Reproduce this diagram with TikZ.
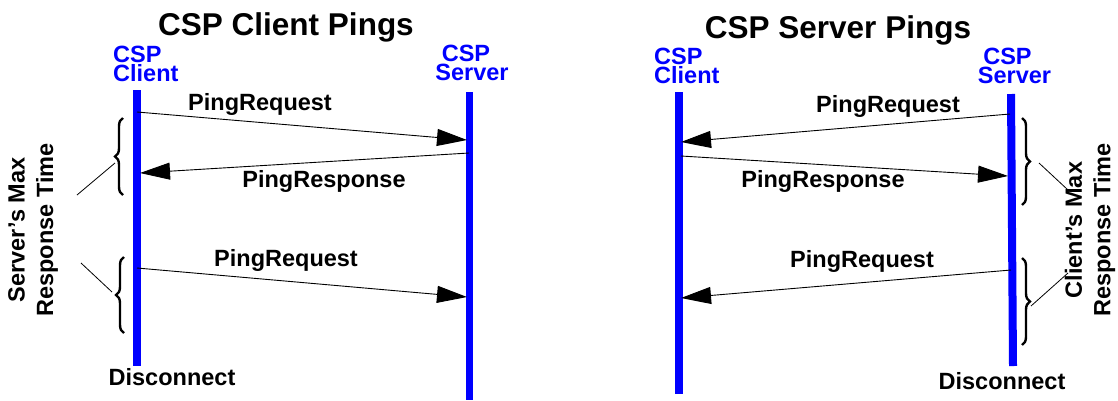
\documentclass[tikz,border=0pt]{standalone}
\usepackage{fontspec}
\setmainfont{Liberation Sans}
\usetikzlibrary{arrows.meta,decorations.pathreplacing}
\definecolor{lifeblue}{RGB}{0,0,255}
\tikzset{
  lifeline/.style={draw=lifeblue,line width=7.5pt},
  msg/.style={draw=black,line width=0.9pt,-{Triangle[length=30pt,width=17pt]}},
  msglabel/.style={anchor=base,inner sep=0pt,font=\fontsize{23.5}{28}\selectfont\bfseries},
  title/.style={anchor=base,inner sep=0pt,font=\fontsize{31.5}{36}\selectfont\bfseries},
  actor/.style={inner sep=0pt,text=lifeblue,font=\fontsize{23.5}{19.2}\selectfont\bfseries},
  bracebox/.style={draw=black,line width=2.4pt,decorate,decoration={brace,amplitude=8pt}},
  pointer/.style={draw=black,line width=0.8pt},
  sidenote/.style={inner sep=0pt,rotate=90,align=center,font=\fontsize{23.5}{28.5}\selectfont\bfseries}
}
\begin{document}
\begin{tikzpicture}[x=1pt,y=-1pt]
\useasboundingbox (0,0) rectangle (1118,400);
% ---------- Left panel ----------
\node[title] (t1) at (286,35) {CSP Client Pings};
\node[actor,anchor=north west,align=left] (lc) at (113,46) {CSP\\Client};
\node[actor,anchor=north,align=center] (ls) at (472,45) {CSP\hspace*{12pt}\\Server};
\coordinate (lct) at (137,90);
\coordinate (lcb) at (137,366);
\coordinate (lst) at (469.5,92);
\coordinate (lsb) at (469.5,400);
\draw[lifeline] (lct) -- (lcb);
\draw[lifeline] (lst) -- (lsb);
\coordinate (a1s) at (137,112);
\coordinate (a1e) at (467,140);
\coordinate (a2s) at (469,153);
\coordinate (a2e) at (140,173);
\coordinate (a3s) at (137,268);
\coordinate (a3e) at (467,297);
\draw[msg] (a1s) -- (a1e);
\draw[msg] (a2s) -- (a2e);
\draw[msg] (a3s) -- (a3e);
\node[msglabel] (l1) at (260,110) {PingRequest};
\node[msglabel] (l2) at (324,187) {PingResponse};
\node[msglabel] (l3) at (286,266) {PingRequest};
\node[msglabel] (ld) at (172,385) {Disconnect};
\coordinate (b1a) at (123,195);
\coordinate (b1b) at (123,118);
\coordinate (b2a) at (124,333);
\coordinate (b2b) at (124,257);
\draw[bracebox] (b1a) -- (b1b);
\draw[bracebox] (b2a) -- (b2b);
\node[sidenote] (sn1) at (33,230) {Server’s Max\\Response Time};
\coordinate (p1a) at (77,195);
\coordinate (p1b) at (115,163);
\coordinate (p2a) at (81,263);
\coordinate (p2b) at (112,292);
\draw[pointer] (p1a) -- (p1b);
\draw[pointer] (p2a) -- (p2b);
% ---------- Right panel ----------
\node[title] (t2) at (838,38) {CSP Server Pings};
\node[actor,anchor=north west,align=left] (rc) at (654,48) {CSP\\Client};
\node[actor,anchor=north,align=center] (rs) at (1014.5,47.5) {CSP\hspace*{14pt}\\Server};
\coordinate (rct) at (679,92);
\coordinate (rcb) at (679,394);
\coordinate (rst) at (1011,94);
\coordinate (rsb) at (1013,366);
\draw[lifeline] (rct) -- (rcb);
\draw[lifeline,line width=8pt] (rst) -- (rsb);
\coordinate (r1s) at (1010,114);
\coordinate (r1e) at (681,142);
\coordinate (r2s) at (681,156);
\coordinate (r2e) at (1008,176);
\coordinate (r3s) at (1011,270);
\coordinate (r3e) at (681,298);
\draw[msg] (r1s) -- (r1e);
\draw[msg] (r2s) -- (r2e);
\draw[msg] (r3s) -- (r3e);
\node[msglabel] (m1) at (888,112) {PingRequest};
\node[msglabel] (m2) at (823,187) {PingResponse};
\node[msglabel] (m3) at (862,267) {PingRequest};
\node[msglabel] (md) at (1002,389) {Disconnect};
\coordinate (c1a) at (1022,118);
\coordinate (c1b) at (1022,205);
\coordinate (c2a) at (1022,258);
\coordinate (c2b) at (1022,345);
\draw[bracebox] (c1a) -- (c1b);
\draw[bracebox] (c2a) -- (c2b);
\node[sidenote] (sn2) at (1090,230) {Client’s Max\\Response Time};
\coordinate (q1a) at (1039,163);
\coordinate (q1b) at (1068,190);
\coordinate (q2a) at (1031,306);
\coordinate (q2b) at (1068,273);
\draw[pointer] (q1a) -- (q1b);
\draw[pointer] (q2a) -- (q2b);
\end{tikzpicture}
\end{document}
